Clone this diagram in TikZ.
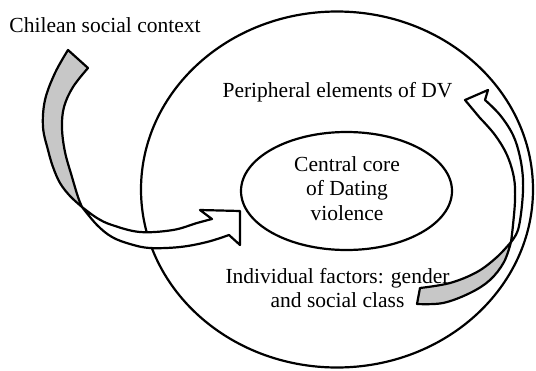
\documentclass[tikz,border=0pt]{standalone}
\usepackage{fontspec}
\setmainfont{Liberation Serif}
\usetikzlibrary{shapes.geometric}
\begin{document}
\begin{tikzpicture}[x=1pt,y=-1pt, line width=2.2pt, line join=round,
  lbl/.style={anchor=base, inner sep=0pt, font=\fontsize{21.5}{24}\selectfont},
  ring/.style={draw, ellipse, inner sep=0pt},
  backband/.style={draw=black, fill=black!22},
  frontband/.style={draw=black, fill=white}]
\useasboundingbox (0,0) rectangle (536,370);
% ellipses
\node[ring, minimum width=392pt, minimum height=356pt] (outer) at (337,189.5) {};
\node[ring, minimum width=211pt, minimum height=118pt] (core) at (346.5,191) {};
% left twisted arrow: back (grey) part
\filldraw[backband] plot[smooth, tension=0.6] coordinates {(68,50) (55,73) (45,100) (43,127) (48,150) (53,167) (60,183) (70,196) (82,207)}
  -- plot[smooth, tension=0.6] coordinates {(82,207) (78,197) (72,177) (65,152) (62,128) (64,107) (73,87) (88,68)} -- cycle;
% left twisted arrow: front (white) part with head
\filldraw[frontband] plot[smooth, tension=0.6] coordinates {(82,207) (97,218) (112,225) (140,232) (173,230) (197,223) (212,219)}
  -- (200,210) -- (240,211) -- (240,245) -- (229,235)
  -- plot[smooth, tension=0.6] coordinates {(229,235) (207,242) (180,247) (150,248) (130,244) (112,237) (97,225) (82,207)} -- cycle;
% right twisted arrow: back (grey) part
\filldraw[backband] plot[smooth, tension=0.6] coordinates {(420,288) (450,283) (477,272) (497,257) (511,242)}
  -- plot[smooth, tension=0.6] coordinates {(511,242) (504,262) (490,280) (470,293) (443,303) (417,304)} -- cycle;
% right twisted arrow: front (white) part with head
\filldraw[frontband] plot[smooth, tension=0.6] coordinates {(511,242) (518,230) (522,205) (523,180) (520,157) (513,135) (500,115) (485,100)}
  -- (488,90) -- (465,100) -- (480,118)
  -- plot[smooth, tension=0.6] coordinates {(480,118) (495,135) (507,155) (514,178) (515,200) (513,225) (511,242)} -- cycle;
% texts
\node[lbl] (ctx) at (105,32) {Chilean social context};
\node[lbl] (peri) at (337.5,97) {Peripheral elements of DV};
\node[lbl] (c1) at (347,171) {Central core};
\node[lbl] (c2) at (347,195) {of Dating};
\node[lbl] (c3) at (347,220) {violence};
\node[lbl] (i1) at (337.5,283) {Individual factors: gender};
\node[lbl] (i2) at (337.5,307) {and social class};
\end{tikzpicture}
\end{document}
